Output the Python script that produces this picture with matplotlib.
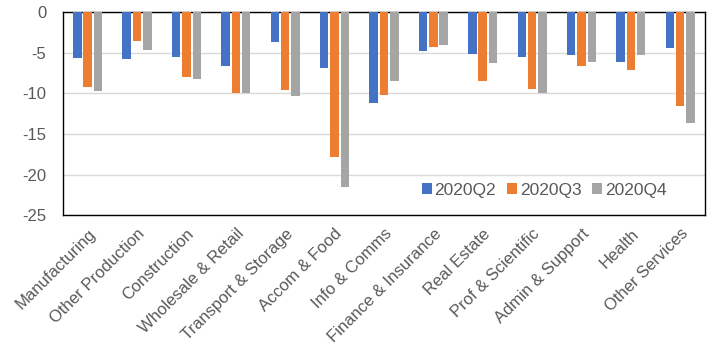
import numpy as np
import matplotlib
matplotlib.use('Agg')
import matplotlib.pyplot as plt

plt.rcParams['font.family'] = ['Liberation Sans', 'DejaVu Sans']
plt.rcParams['axes.unicode_minus'] = False

sectors = ['Manufacturing', 'Other Production', 'Construction', 'Wholesale & Retail',
           'Transport & Storage', 'Accom & Food', 'Info & Comms', 'Finance & Insurance',
           'Real Estate', 'Prof & Scientific', 'Admin & Support', 'Health', 'Other Services']
q2 = [-5.6, -5.7, -5.5, -6.6, -3.6, -6.8, -11.15, -4.7, -5.1, -5.5, -5.2, -6.1, -4.4]
q3 = [-9.2, -3.5, -7.95, -9.9, -9.55, -17.9, -10.2, -4.25, -8.4, -9.4, -6.6, -7.1, -11.5]
q4 = [-9.7, -4.65, -8.2, -9.9, -10.3, -21.5, -8.4, -4.0, -6.2, -9.9, -6.1, -5.2, -13.7]
series = {'2020Q2': q2, '2020Q3': q3, '2020Q4': q4}
colors = ['#4472C4', '#ED7D31', '#A5A5A5']
text_col = '#595959'

fig = plt.figure(figsize=(7.2, 3.56), dpi=100)
ax = fig.add_axes([0.0875, 0.396, 0.8915, 0.569])

x = np.arange(len(sectors))
width = 0.17
step = 0.21
for i, (name, vals) in enumerate(series.items()):
    ax.bar(x + (i - 1) * step, vals, width, color=colors[i], label=name, zorder=3)

ax.set_xlim(-0.5, len(sectors) - 0.5)
ax.set_ylim(-25, 0)
ax.set_yticks([0, -5, -10, -15, -20, -25])
ax.yaxis.grid(True, color='#D9D9D9', linewidth=1, zorder=0)
ax.set_xticks(x)
ax.set_xticklabels(sectors, rotation=45, ha='right', rotation_mode='anchor')
ax.tick_params(axis='both', length=0, labelsize=12, colors=text_col)
ax.tick_params(axis='x', pad=8)
ax.tick_params(axis='y', pad=12)
for s in ax.spines.values():
    s.set_color('black')
    s.set_linewidth(1)

ax.legend(loc='center right', bbox_to_anchor=(0.94, 0.123), ncol=3, frameon=False,
          fontsize=12.5, labelcolor=text_col, handlelength=0.6, handleheight=0.6,
          handletextpad=0.15, columnspacing=0.6, borderaxespad=0, borderpad=0)

fig.savefig('out.png', dpi=100)
